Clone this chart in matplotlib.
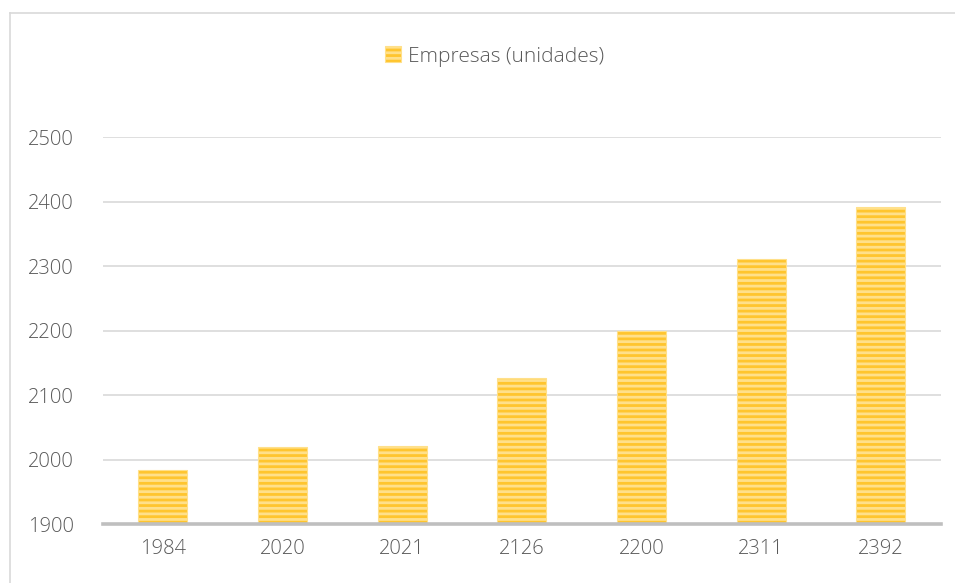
import matplotlib.pyplot as plt
import matplotlib as mpl
from matplotlib.lines import Line2D

plt.rcParams['font.family'] = ['Open Sans', 'DejaVu Sans']

# data
categories = ['1984', '2020', '2021', '2126', '2200', '2311', '2392']
empresas = [1984, 2020, 2021, 2126, 2200, 2311, 2392]
yticks = [1900, 2000, 2100, 2200, 2300, 2400, 2500]
series_name = 'Empresas (unidades)'

mpl.rcParams['hatch.color'] = '#FFE9A8'
mpl.rcParams['hatch.linewidth'] = 2.0

fig = plt.figure(figsize=(9.55, 5.83), dpi=100)
ax = fig.add_axes([0.108, 0.101, 0.877, 0.664])

bars = ax.bar(categories, empresas, width=0.41,
              color='#FFC52E', edgecolor='#FFE08A', linewidth=0.8,
              hatch='---', zorder=2)

ax.set_ylim(1900, 2500)
ax.set_xlim(-0.5, len(categories) - 0.5)
ax.set_yticks(yticks)
ax.grid(axis='y', color='#D9D9D9', linewidth=1.2, zorder=0)
ax.set_axisbelow(True)

for s in ['top', 'right', 'left']:
    ax.spines[s].set_visible(False)
ax.spines['bottom'].set_color('#BFBFBF')
ax.spines['bottom'].set_linewidth(2.6)
ax.spines['bottom'].set_zorder(3)

ax.tick_params(axis='both', length=0, labelsize=14.5, colors='#595959')
ax.tick_params(axis='x', pad=11)
ax.tick_params(axis='y', pad=21)
for lbl in ax.get_xticklabels() + ax.get_yticklabels():
    lbl.set_fontweight('light')

# legend at top
leg = ax.legend([bars[0]], [series_name], loc='center', bbox_to_anchor=(0.467, 1.208),
                frameon=False, fontsize=15, handlelength=0.8, handleheight=0.8,
                handletextpad=0.3)
for t in leg.get_texts():
    t.set_color('#595959')
    t.set_fontweight('light')

# chart border (left and top only visible)
fig.add_artist(Line2D([10 / 955, 10 / 955], [0, 1 - 13 / 583], color='#D9D9D9', lw=1.2))
fig.add_artist(Line2D([10 / 955, 1], [1 - 13 / 583, 1 - 13 / 583], color='#D9D9D9', lw=1.2))

fig.savefig('out.png', dpi=100)
